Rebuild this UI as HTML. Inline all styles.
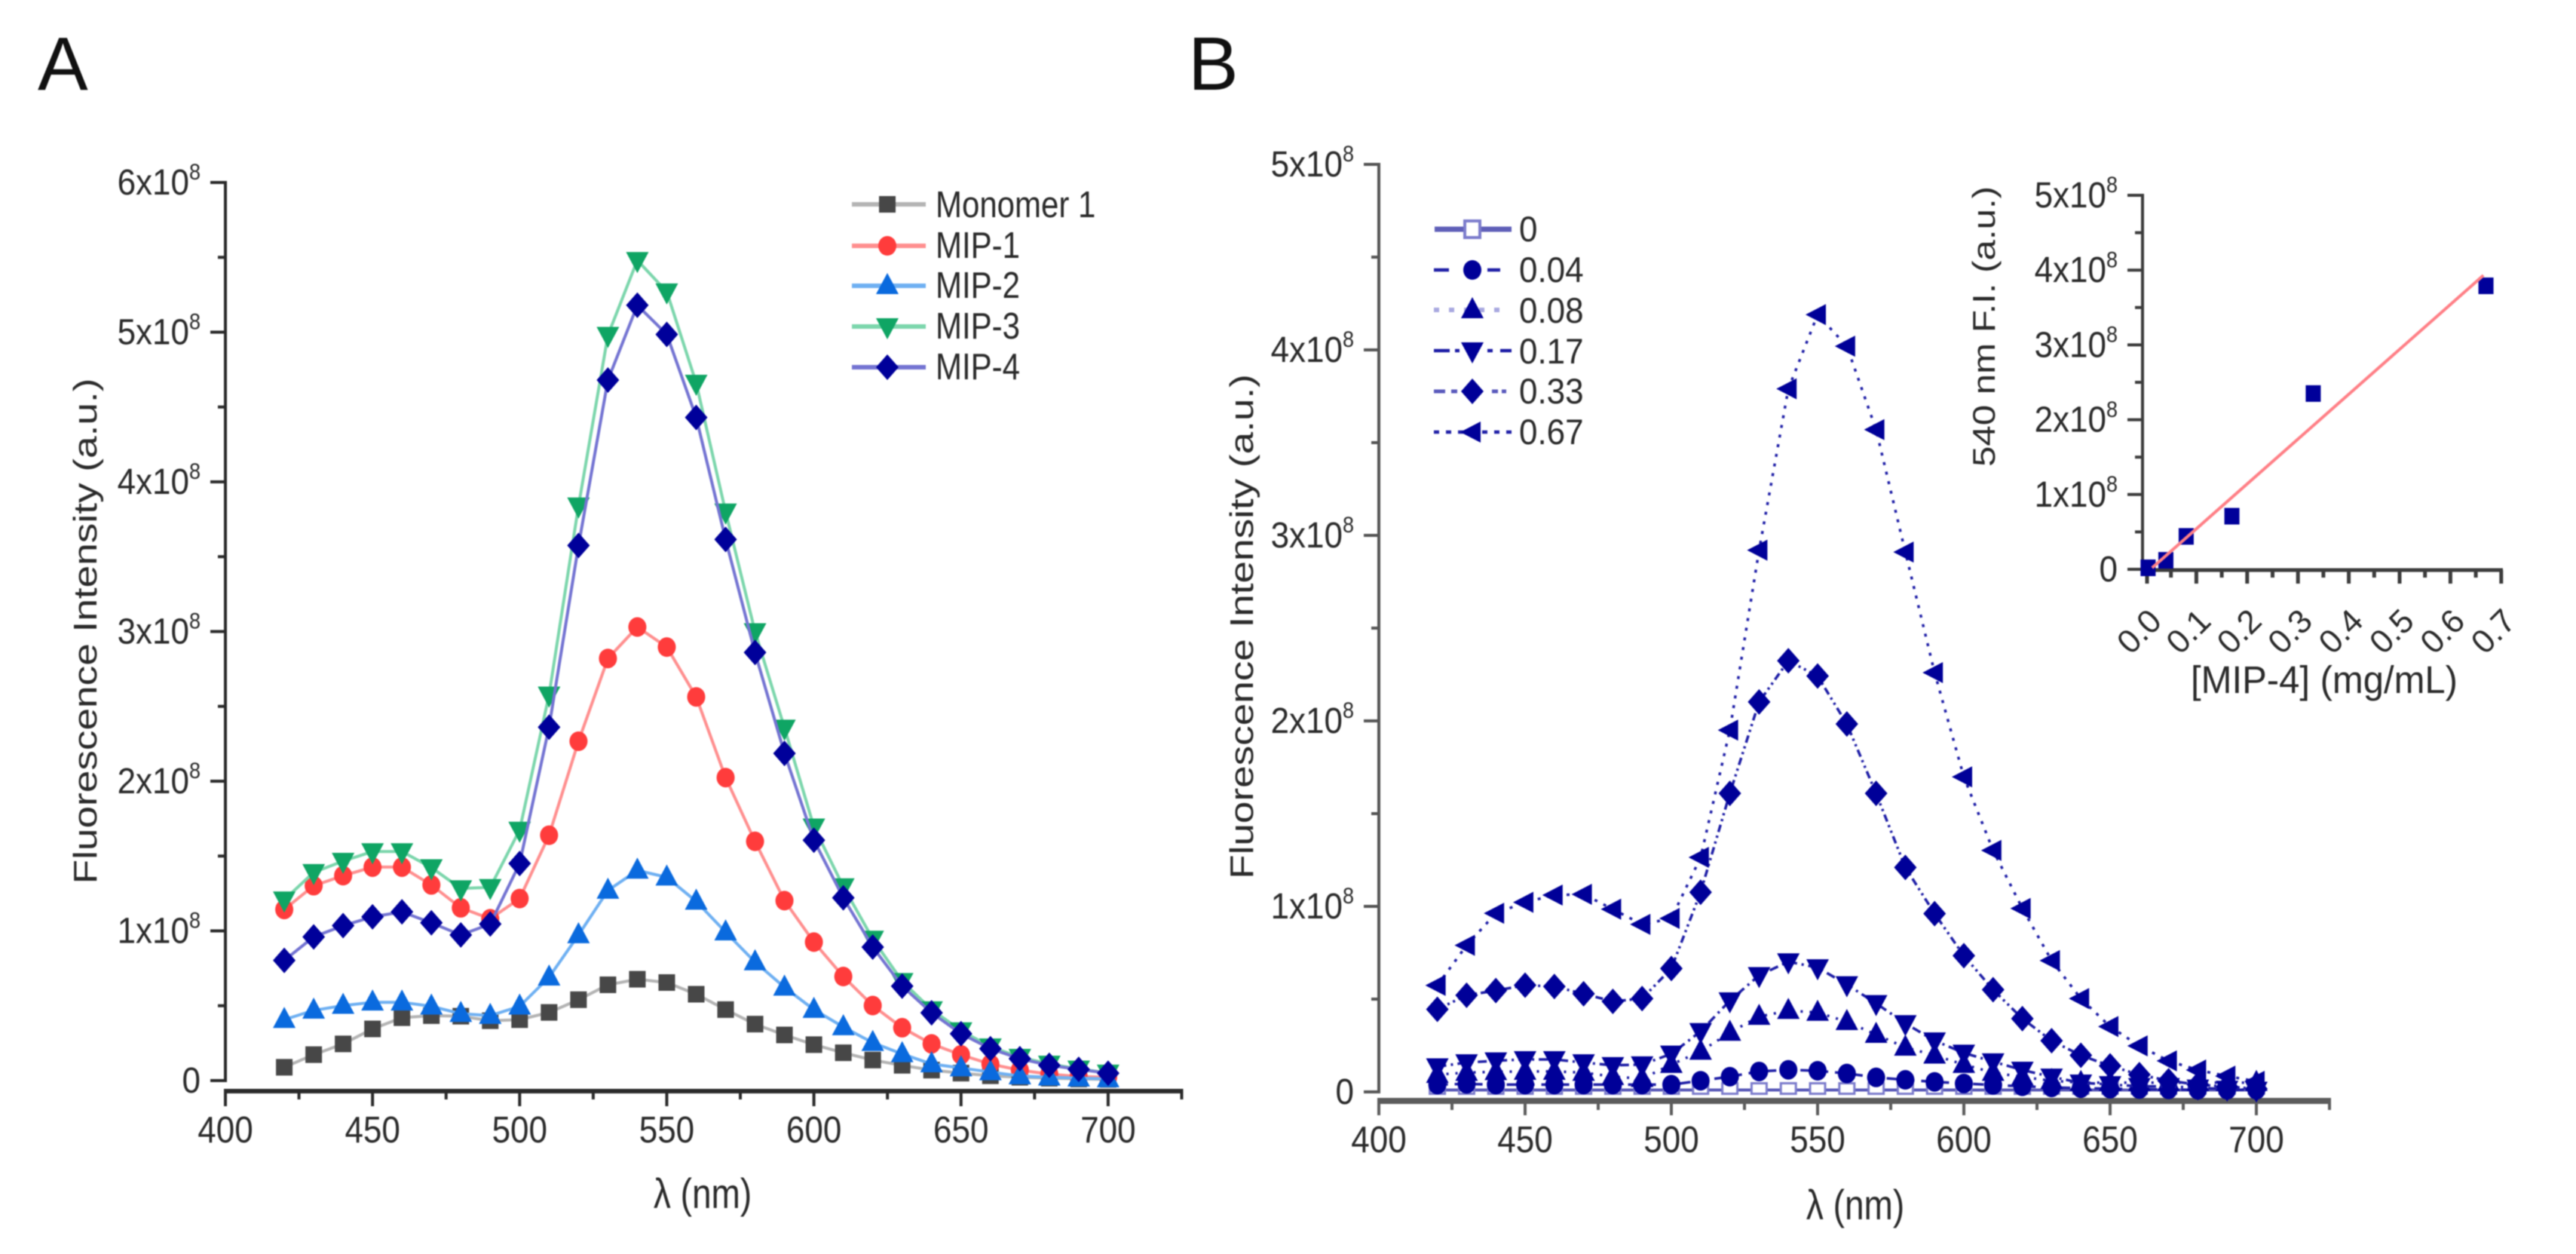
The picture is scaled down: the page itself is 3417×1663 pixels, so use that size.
<!DOCTYPE html>
<html>
<head>
<meta charset="utf-8">
<style>
html,body{margin:0;padding:0;background:#fff;width:3417px;height:1663px;overflow:hidden}
svg{display:block;filter:blur(0.9px)}
text{font-family:"Liberation Sans",sans-serif;fill:#2a2a2a}
</style>
</head>
<body>
<svg id="figure" xmlns="http://www.w3.org/2000/svg" width="3417" height="1663" viewBox="0 0 3417 1663">
<rect width="3417" height="1663" fill="#fff"/>
<text x="50" y="119" font-size="100" style="fill:#111">A</text>
<text x="1576" y="119" font-size="100" style="fill:#111">B</text>

<text transform="translate(128,837) scale(1,1.2) rotate(-90)" text-anchor="middle" font-size="44" textLength="559" lengthAdjust="spacingAndGlyphs">Fluorescence Intensity (a.u.)</text>
<text transform="translate(932,1602) scale(1,1.2)" text-anchor="middle" font-size="46">λ (nm)</text>

<text transform="translate(1662,831) scale(1,1.2) rotate(-90)" text-anchor="middle" font-size="44" textLength="558" lengthAdjust="spacingAndGlyphs">Fluorescence Intensity (a.u.)</text>
<text transform="translate(2461,1617) scale(1,1.2)" text-anchor="middle" font-size="46">λ (nm)</text>

<text transform="translate(2646,433) scale(1,1.2) rotate(-90)" text-anchor="middle" font-size="42" textLength="310" lengthAdjust="spacingAndGlyphs">540 nm F.I. (a.u.)</text>
<text transform="translate(3083,919) scale(1,1.15)" text-anchor="middle" font-size="44" textLength="354" lengthAdjust="spacingAndGlyphs">[MIP-4] (mg/mL)</text>

<g>
<text transform="translate(1241,288) scale(1,1.17)" font-size="42">Monomer 1</text>
<text transform="translate(1241,342) scale(1,1.17)" font-size="42">MIP-1</text>
<text transform="translate(1241,395) scale(1,1.17)" font-size="42">MIP-2</text>
<text transform="translate(1241,449) scale(1,1.17)" font-size="42">MIP-3</text>
<text transform="translate(1241,503) scale(1,1.17)" font-size="42">MIP-4</text>
</g>
<g>
<text transform="translate(2015,320) scale(1,1.08)" font-size="44">0</text>
<text transform="translate(2015,374) scale(1,1.08)" font-size="44">0.04</text>
<text transform="translate(2015,428) scale(1,1.08)" font-size="44">0.08</text>
<text transform="translate(2015,482) scale(1,1.08)" font-size="44">0.17</text>
<text transform="translate(2015,535) scale(1,1.08)" font-size="44">0.33</text>
<text transform="translate(2015,589) scale(1,1.08)" font-size="44">0.67</text>
</g>
</svg>
<script>
// wavelengths (nm)
const wavelengths = [420,430,440,450,460,470,480,490,500,510,520,530,540,550,560,570,580,590,600,610,620,630,640,650,660,670,680,690,700];

// Panel A intensities, in units of 1e8 a.u.
const monomer1 = [0.089,0.173,0.245,0.345,0.42,0.434,0.43,0.40,0.407,0.455,0.54,0.64,0.677,0.655,0.577,0.474,0.377,0.305,0.24,0.186,0.137,0.102,0.07,0.05,0.032,0.022,0.016,0.011,0.008];
const mip1 = [1.143,1.302,1.369,1.426,1.426,1.307,1.154,1.081,1.216,1.639,2.267,2.82,3.03,2.896,2.563,2.024,1.598,1.202,0.925,0.695,0.501,0.353,0.245,0.172,0.11,0.07,0.043,0.027,0.022];
const mip2 = [0.407,0.469,0.501,0.523,0.523,0.496,0.447,0.434,0.496,0.69,0.973,1.27,1.404,1.358,1.197,0.992,0.792,0.623,0.474,0.358,0.253,0.178,0.111,0.084,0.057,0.03,0.022,0.016,0.011];
const mip3 = [1.208,1.391,1.466,1.53,1.53,1.423,1.283,1.291,1.674,2.577,3.84,4.98,5.48,5.27,4.66,3.80,3.0,2.356,1.695,1.296,0.946,0.663,0.474,0.334,0.226,0.156,0.111,0.078,0.051];
const mip4 = [0.803,0.96,1.035,1.094,1.127,1.054,0.973,1.046,1.45,2.361,3.575,4.68,5.18,4.985,4.43,3.615,2.86,2.186,1.606,1.221,0.892,0.631,0.453,0.313,0.213,0.146,0.102,0.075,0.049];

// Panel B intensities by MIP-4 concentration, in units of 1e8 a.u.
const conc0 = [0.01,0.01,0.01,0.01,0.01,0.01,0.01,0.01,0.01,0.01,0.01,0.01,0.01,0.01,0.01,0.01,0.01,0.01,0.01,0.01,0.01,0.01,0.01,0.01,0.01,0.01,0.01,0.01,0.01];
const conc004 = [0.039,0.043,0.039,0.039,0.039,0.039,0.039,0.039,0.039,0.06,0.082,0.11,0.119,0.114,0.099,0.078,0.065,0.054,0.045,0.037,0.03,0.024,0.02,0.017,0.015,0.013,0.011,0.011,0.011];
const conc008 = [0.093,0.104,0.108,0.11,0.11,0.104,0.082,0.071,0.147,0.218,0.32,0.406,0.438,0.428,0.378,0.309,0.24,0.197,0.147,0.104,0.08,0.06,0.05,0.05,0.05,0.05,0.05,0.05,0.05];
const conc017 = [0.136,0.158,0.168,0.175,0.175,0.158,0.143,0.147,0.205,0.326,0.492,0.628,0.702,0.67,0.579,0.477,0.369,0.276,0.21,0.163,0.118,0.081,0.049,0.04,0.03,0.03,0.022,0.015,0.01];
const conc033 = [0.445,0.521,0.546,0.575,0.568,0.529,0.488,0.503,0.665,1.076,1.609,2.102,2.324,2.242,1.983,1.609,1.21,0.961,0.734,0.551,0.395,0.276,0.197,0.14,0.093,0.06,0.039,0.028,0.017];
const conc067 = [0.574,0.79,0.963,1.022,1.061,1.065,0.985,0.903,0.935,1.264,1.95,2.92,3.79,4.19,4.02,3.57,2.91,2.26,1.698,1.302,0.989,0.708,0.503,0.352,0.248,0.167,0.118,0.085,0.057];

// Inset calibration
const insetConc = [0.005,0.04,0.08,0.17,0.33,0.67];
const insetSignal = [0.02,0.12,0.44,0.71,2.35,3.79];
const fitConc = [0.013,0.665];
const fitSignal = [0.02,3.93];

// Tick labels
const xTicksMain = [400,450,500,550,600,650,700];
const xMinorMain = [425,475,525,575,625,675,725];
const yTicksA = [0,1,2,3,4,5,6];
const yMinorA = [0.5,1.5,2.5,3.5,4.5,5.5];
const yTicksB = [0,1,2,3,4,5];
const yMinorB = [0.5,1.5,2.5,3.5,4.5];
const xTicksInset = [0.0,0.1,0.2,0.3,0.4,0.5,0.6,0.7];
const xMinorInset = [0.05,0.15,0.25,0.35,0.45,0.55,0.65];

const svg = document.getElementById('figure');
const NS = 'http://www.w3.org/2000/svg';

function make(tag, name, attrs, parent) {
  const node = document.createElementNS(NS, tag);
  
  
  for (const k in attrs) node.setAttribute(k, attrs[k]);
  (parent || svg).appendChild(node);
  return node;
}

// axis functions
const xA = v => 299 + (v - 400) * 3.903;
const yA = v => 1433 - v * 198.5;
const xB = v => 1829 + (v - 400) * 3.88;
const yB = v => 1448 - v * 246;
const xI = v => 2846 + v * 674;
const yI = v => 755 - v * 99.2;

function marker(shape, x, y, color, name, parent) {
  let d;
  if (shape === 'square') d = `M${x-11} ${y-11}H${x+11}V${y+11}H${x-11}Z`;
  if (shape === 'up') d = `M${x} ${y-17}L${x+15} ${y+11}H${x-15}Z`;
  if (shape === 'down') d = `M${x} ${y+17}L${x+15} ${y-11}H${x-15}Z`;
  if (shape === 'diamond') d = `M${x} ${y-17}L${x+15} ${y}L${x} ${y+17}L${x-15} ${y}Z`;
  if (shape === 'left') d = `M${x-16} ${y}L${x+11} ${y-14}V${y+14}Z`;
  if (shape === 'circle') {
    return make('ellipse', name, {cx:x, cy:y, rx:12, ry:13, fill:color}, parent);
  }
  if (shape === 'open') {
    return make('rect', name, {x:x-10, y:y-9, width:20, height:14, fill:'#fff', stroke:'#7c7ccc', 'stroke-width':3}, parent);
  }
  if (shape === 'open-large') {
    return make('rect', name, {x:x-10, y:y-11, width:20, height:22, fill:'#fff', stroke:'#7c7ccc', 'stroke-width':4}, parent);
  }
  return make('path', name, {d:d, fill:color}, parent);
}

function series(name, xs, ys, fx, fy, lineColor, width, dash, shape, color) {
  const g = make('g', name, {});
  const pts = xs.map((v, i) => fx(v).toFixed(1) + ',' + fy(ys[i]).toFixed(1)).join(' ');
  make('polyline', name + '-line', {points:pts, fill:'none', stroke:lineColor, 'stroke-width':width, 'stroke-dasharray':dash}, g);
  xs.forEach((v, i) => marker(shape, fx(v), fy(ys[i]), color, name + '-point', g));
}

function legendSymbol(name, x1, x2, mx, y, lineColor, width, dash, shape, color) {
  const g = make('g', name, {});
  make('line', name + '-line', {x1:x1, x2:x2, y1:y, y2:y, stroke:lineColor, 'stroke-width':width, 'stroke-dasharray':dash}, g);
  marker(shape, mx, y, color, name + '-marker', g);
}

function yAxis(prefix, ax, top, bottom, fy, majors, minors, color) {
  make('line', prefix + '-y-axis-line', {x1:ax, x2:ax, y1:top - 2, y2:bottom, stroke:color, 'stroke-width':4});
  majors.forEach(v => {
    make('line', prefix + '-y-tick', {x1:ax - 20, x2:ax, y1:fy(v), y2:fy(v), stroke:color, 'stroke-width':4});
    const t = make('text', prefix + '-y-tick-label', {transform:`translate(${ax - 33},${fy(v) + 16}) scale(1,1.1)`, 'text-anchor':'end', 'font-size':44}, null);
    if (v === 0) {
      t.textContent = '0';
    } else {
      t.textContent = v + 'x10';
      const s = make('tspan', prefix + '-y-tick-exponent', {dy:-18, 'font-size':27}, t);
      s.textContent = '8';
    }
  });
  minors.forEach(v => make('line', prefix + '-y-minor-tick', {x1:ax - 10, x2:ax, y1:fy(v), y2:fy(v), stroke:color, 'stroke-width':4}));
}

function xAxisMain(prefix, ay, fx, labelY, color, axisWidth, majorEnd, minorEnd) {
  make('line', prefix + '-x-axis-line', {x1:fx(400) - 2, x2:fx(725) + 2, y1:ay, y2:ay, stroke:color, 'stroke-width':axisWidth});
  xTicksMain.forEach(v => {
    make('line', prefix + '-x-tick', {x1:fx(v), x2:fx(v), y1:ay, y2:majorEnd, stroke:color, 'stroke-width':4});
    const t = make('text', prefix + '-x-tick-label', {transform:`translate(${fx(v)},${labelY}) scale(1,1.12)`, 'text-anchor':'middle', 'font-size':44});
    t.textContent = v;
  });
  xMinorMain.forEach(v => make('line', prefix + '-x-minor-tick', {x1:fx(v), x2:fx(v), y1:ay, y2:minorEnd, stroke:color, 'stroke-width':4}));
}

// Panel A
yAxis('panel-a', 299, yA(6), yA(0) + 2, yA, yTicksA, yMinorA, '#2a2a2a');
xAxisMain('panel-a', 1447, xA, 1515, '#2a2a2a', 6, 1467, 1458);
series('series-monomer-1', wavelengths, monomer1, xA, yA, '#b4b4b4', 4, 'none', 'square', '#474747');
series('series-mip-1', wavelengths, mip1, xA, yA, '#ff8f8f', 4, 'none', 'circle', '#ff3c3c');
series('series-mip-2', wavelengths, mip2, xA, yA, '#6fb0f2', 4, 'none', 'up', '#0a6ade');
series('series-mip-3', wavelengths, mip3, xA, yA, '#7cd6ac', 4, 'none', 'down', '#0fa564');
series('series-mip-4', wavelengths, mip4, xA, yA, '#7474d2', 4, 'none', 'diamond', '#00009a');
legendSymbol('legend-symbol-monomer-1', 1130, 1228, 1177, 271, '#b4b4b4', 6, 'none', 'square', '#474747');
legendSymbol('legend-symbol-mip-1', 1130, 1228, 1177, 326, '#ff8f8f', 6, 'none', 'circle', '#ff3c3c');
legendSymbol('legend-symbol-mip-2', 1130, 1228, 1177, 379, '#6fb0f2', 6, 'none', 'up', '#0a6ade');
legendSymbol('legend-symbol-mip-3', 1130, 1228, 1177, 433, '#7cd6ac', 6, 'none', 'down', '#0fa564');
legendSymbol('legend-symbol-mip-4', 1130, 1228, 1177, 487, '#7474d2', 6, 'none', 'diamond', '#00009a');

// Panel B
yAxis('panel-b', 1829, yB(5), yB(0) + 2, yB, yTicksB, yMinorB, '#555');
xAxisMain('panel-b', 1460, xB, 1528, '#5c5c5c', 8, 1479, 1472);
const navy = '#000098';
const navyLine = '#1e1ea6';
series('series-conc-0', wavelengths, conc0, xB, yB, '#5a5ab8', 4, 'none', 'open', '#fff');
series('series-conc-0.04', wavelengths, conc004, xB, yB, navyLine, 3.5, '14 9', 'circle', navy);
series('series-conc-0.08', wavelengths, conc008, xB, yB, navyLine, 3.5, '3 9', 'up', navy);
series('series-conc-0.17', wavelengths, conc017, xB, yB, navyLine, 3.5, '12 6 3 6', 'down', navy);
series('series-conc-0.33', wavelengths, conc033, xB, yB, navyLine, 3.5, '10 5 3 5 3 5', 'diamond', navy);
series('series-conc-0.67', wavelengths, conc067, xB, yB, navyLine, 3.5, '4 9', 'left', navy);
legendSymbol('legend-symbol-0', 1903, 2005, 1953, 304, '#5f5fb8', 7, 'none', 'open-large', '#fff');
legendSymbol('legend-symbol-0.04', 1902, 1990, 1953, 358, navyLine, 4.5, '20 51 17 100', 'circle', navy);
legendSymbol('legend-symbol-0.08', 1902, 1990, 1953, 411, '#a8a8e0', 6, '7 13', 'up', navy);
legendSymbol('legend-symbol-0.17', 1902, 2005, 1953, 465, navyLine, 4.5, '21 7 6 37 7 10 15', 'down', navy);
legendSymbol('legend-symbol-0.33', 1902, 1998, 1953, 519, '#5a5abc', 5, '15 8 8 46 8 5 7', 'diamond', navy);
legendSymbol('legend-symbol-0.67', 1902, 2005, 1953, 573, navyLine, 4.5, '7 9', 'left', navy);

// Inset
yAxis('inset', 2842, yI(5), 756, yI, yTicksB, yMinorB, '#3c3c3c');
make('line', 'inset-x-axis-line', {x1:2842, x2:3320, y1:756, y2:756, stroke:'#3c3c3c', 'stroke-width':5});
xTicksInset.forEach(v => {
  const px = xI(v) + (v === 0 ? 2 : 0);
  make('line', 'inset-x-tick', {x1:px, x2:px, y1:756, y2:774, stroke:'#3c3c3c', 'stroke-width':5});
  const t = make('text', 'inset-x-tick-label', {transform:`translate(${px},848) rotate(-45)`, 'text-anchor':'middle', 'font-size':44});
  t.textContent = v.toFixed(1);
});
xMinorInset.forEach(v => make('line', 'inset-x-minor-tick', {x1:xI(v), x2:xI(v), y1:756, y2:766, stroke:'#3c3c3c', 'stroke-width':5}));
const insetPoints = make('g', 'inset-points', {});
insetConc.forEach((v, i) => {
  const px = xI(v);
  const py = yI(insetSignal[i]);
  make('rect', 'inset-point', {x:px - 10, y:py - 11, width:20, height:22, fill:'#00009a'}, insetPoints);
});
make('line', 'inset-fit-line', {x1:xI(fitConc[0]), x2:xI(fitConc[1]), y1:yI(fitSignal[0]), y2:yI(fitSignal[1]), stroke:'#ff7f86', 'stroke-width':4});
</script>
</body>
</html>
